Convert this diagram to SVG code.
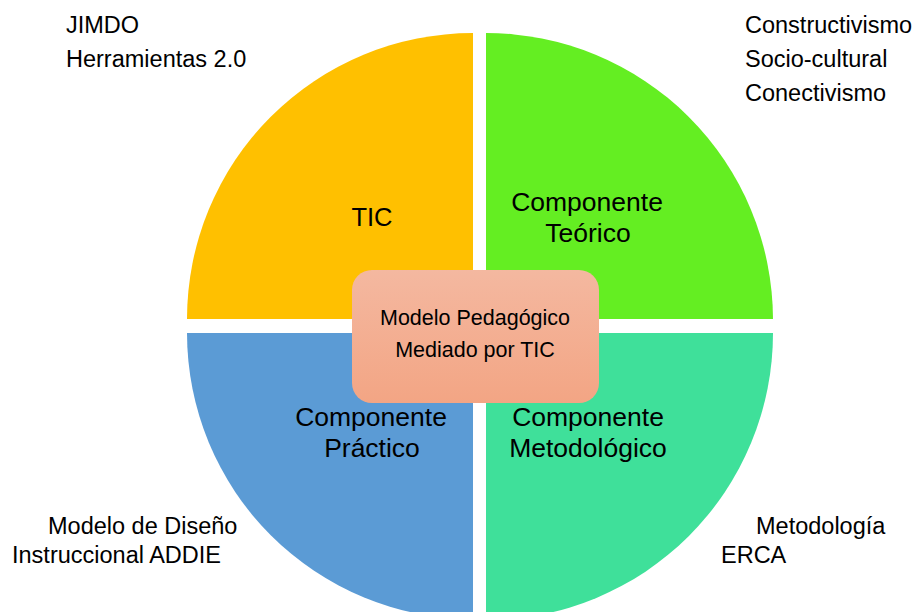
<svg xmlns="http://www.w3.org/2000/svg" width="922" height="612" viewBox="0 0 922 612">
  <defs>
    <linearGradient id="boxGrad" x1="0" y1="0" x2="0" y2="1">
      <stop offset="0" stop-color="#F4B8A0"/>
      <stop offset="1" stop-color="#F3A584"/>
    </linearGradient>
    <style>
      text { font-family: "Liberation Sans", Arial, sans-serif; fill: #000; }
      .q { font-size: 26.5px; text-anchor: middle; }
      .t { font-size: 25.5px; text-anchor: middle; }
      .c { font-size: 21.5px; text-anchor: middle; }
      .o { font-size: 23.5px; }
    </style>
  </defs>
  <rect width="922" height="612" fill="#FFFFFF"/>

  <g id="tic">
    <path d="M473,319 L187,319 A286,286 0 0 1 473,33 Z" fill="#FFC000"/>
    <text class="t" x="372" y="226">TIC</text>
  </g>
  <g id="teorico">
    <path d="M486,319 L486,33 A287,287 0 0 1 773,319 Z" fill="#64EE22"/>
    <text class="q" x="587" y="211">Componente</text>
    <text class="q" x="588" y="242">Teórico</text>
  </g>
  <g id="practico">
    <path d="M473,333 L473,619 A286,286 0 0 1 187,333 Z" fill="#5B9BD5"/>
    <text class="q" x="371" y="426">Componente</text>
    <text class="q" x="372" y="457">Práctico</text>
  </g>
  <g id="metodologico">
    <path d="M486,333 L773,333 A287,287 0 0 1 486,620 Z" fill="#3FE09A"/>
    <text class="q" x="588" y="426">Componente</text>
    <text class="q" x="588" y="457">Metodológico</text>
  </g>
  <g id="centro">
    <rect x="352" y="270" width="247" height="133" rx="20" ry="20" fill="url(#boxGrad)"/>
    <text class="c" x="475" y="325">Modelo Pedagógico</text>
    <text class="c" x="475" y="357">Mediado por TIC</text>
  </g>

  <g id="label-tic">
    <text class="o" x="66" y="33">JIMDO</text>
    <text class="o" x="66" y="67">Herramientas 2.0</text>
  </g>
  <g id="label-teorico">
    <text class="o" x="745" y="33">Constructivismo</text>
    <text class="o" x="745" y="67">Socio-cultural</text>
    <text class="o" x="745" y="101">Conectivismo</text>
  </g>
  <g id="label-practico">
    <text class="o" x="48" y="534">Modelo de Diseño</text>
    <text class="o" x="12" y="563">Instruccional ADDIE</text>
  </g>
  <g id="label-metodologico">
    <text class="o" x="756" y="534">Metodología</text>
    <text class="o" x="721" y="563">ERCA</text>
  </g>
</svg>
